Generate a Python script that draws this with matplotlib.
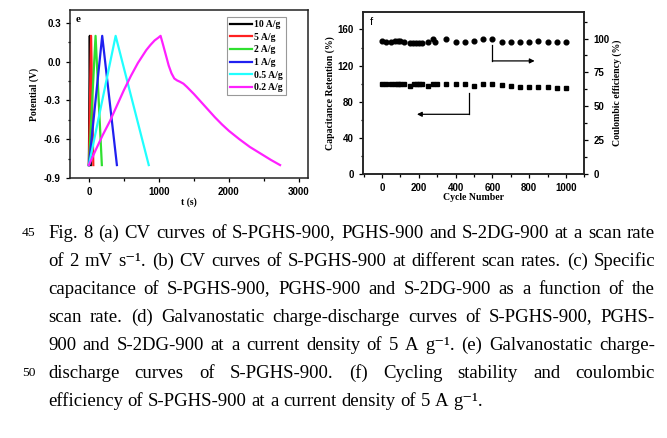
import numpy as np
import matplotlib
matplotlib.use('Agg')
from matplotlib import pyplot as plt
from matplotlib.ticker import MultipleLocator

# panel (e): galvanostatic charge-discharge curves
rates = ['10 A/g', '5 A/g', '2 A/g', '1 A/g', '0.5 A/g', '0.2 A/g']
colors = ['black', '#ff2020', '#30e030', '#2020f0', '#20ffff', '#ff20ff']
t_curves = [
    [0, 13, 27],
    [0, 31, 63],
    [0, 95, 185],
    [0, 190, 400],
    [0, 382, 855],
    [0, 100, 200, 300, 400, 500, 600, 700, 760, 820, 880, 940, 990, 1024,
     1060, 1100, 1140, 1180, 1220, 1260, 1300, 1350, 1400, 1500, 1600, 1700,
     1800, 1900, 2000, 2150, 2300, 2450, 2600, 2731],
]
v_curves = [
    [-0.8, 0.2, -0.8],
    [-0.8, 0.2, -0.8],
    [-0.8, 0.2, -0.8],
    [-0.8, 0.2, -0.8],
    [-0.8, 0.2, -0.8],
    [-0.8, -0.68, -0.565, -0.46, -0.34, -0.22, -0.11, -0.01, 0.04, 0.09, 0.13, 0.165, 0.185, 0.2,
     0.13, 0.05, -0.03, -0.09, -0.13, -0.145, -0.155, -0.17, -0.195, -0.25, -0.31, -0.37,
     -0.43, -0.485, -0.535, -0.6, -0.66, -0.71, -0.76, -0.8],
]

# panel (f): cycling stability
cyc_ret = [0, 20, 50, 70, 85, 100, 120, 150, 175, 190, 200, 220, 250, 275, 300,
           350, 400, 450, 500, 550, 600, 650, 700, 750, 800, 850, 900, 950, 1000]
retention = [100, 100, 100, 100, 100, 100, 100, 97.5, 100, 100, 100, 100, 98, 100, 100,
             100, 100, 100, 97.5, 100, 100, 99, 97.5, 96.5, 96.5, 96.5, 96.5, 95, 95]
cyc_eff = [0, 20, 50, 70, 85, 100, 120, 150, 170, 185, 200, 220, 250, 275, 290,
           350, 400, 450, 500, 550, 600, 650, 700, 750, 800, 850, 900, 950, 1000]
efficiency = [98, 97.5, 97.5, 98, 98, 98, 97.5, 97, 97, 97, 97, 96.8, 97.5, 100, 97.5,
              100, 97.5, 97.5, 98, 100, 100, 97.5, 97.5, 97.5, 97.5, 98.5, 97.5, 97.5, 97.5]

caption = [
    "Fig. 8 (a) CV curves of S-PGHS-900, PGHS-900 and S-2DG-900 at a scan rate",
    "of 2 mV s⁻¹. (b) CV curves of S-PGHS-900 at different scan rates. (c) Specific",
    "capacitance of S-PGHS-900, PGHS-900 and S-2DG-900 as a function of the",
    "scan rate. (d) Galvanostatic charge-discharge curves of S-PGHS-900, PGHS-",
    "900 and S-2DG-900 at a current density of 5 A g⁻¹. (e) Galvanostatic charge-",
    "discharge curves of S-PGHS-900. (f) Cycling stability and coulombic",
    "efficiency of S-PGHS-900 at a current density of 5 A g⁻¹.",
]
line_numbers = {0: '45', 5: '50'}

plt.rcParams['font.family'] = ['Liberation Sans', 'DejaVu Sans']
W, H = 667, 438
fig = plt.figure(figsize=(W / 100, H / 100), dpi=100)

serif = dict(family='Liberation Serif', weight='bold')
cap_family = ['Liberation Serif', 'DejaVu Serif']


def style_axes(ax):
    for s in ax.spines.values():
        s.set_linewidth(1.1)
        s.set_color('#222222')
    ax.tick_params(which='both', direction='out', labelsize=7, width=0.9)
    ax.tick_params(which='major', length=3)
    ax.tick_params(which='minor', length=1.8)
    for lab in ax.get_xticklabels() + ax.get_yticklabels():
        lab.set_fontweight('bold')


# ---- panel e
ax1 = fig.add_axes([70 / W, 1 - 178 / H, 238 / W, 168 / H])
for t, v, c, lab in zip(t_curves, v_curves, colors, rates):
    ax1.plot(t, v, color=c, lw=1.6, label=lab)
ax1.set_xlim(-270, 3130)
ax1.set_ylim(-0.9, 0.4)
ax1.set_xticks([0, 1000, 2000, 3000])
ax1.xaxis.set_minor_locator(MultipleLocator(500))
ax1.set_yticks([-0.9, -0.6, -0.3, 0.0, 0.3])
ax1.yaxis.set_minor_locator(MultipleLocator(0.15))
ax1.set_yticklabels(['-0.9', '-0.6', '-0.3', '0.0', '0.3'])
style_axes(ax1)
ax1.set_ylabel('Potential (V)', fontsize=7, labelpad=4, **serif)
ax1.set_xlabel('t (s)', fontsize=7, labelpad=0, **serif)
ax1.text(0.025, 0.97, 'e', transform=ax1.transAxes, va='top', fontsize=8, **serif)
leg = ax1.legend(loc='upper right', bbox_to_anchor=(0.907, 0.958),
                 prop=dict(family='Liberation Serif', weight='bold', size=7),
                 handlelength=2.2, handletextpad=0.25, labelspacing=0.38,
                 borderpad=0.3, borderaxespad=0, fancybox=False, framealpha=1)
leg.get_frame().set_edgecolor('#999999')
leg.get_frame().set_linewidth(0.8)

# ---- panel f
ax2 = fig.add_axes([362.7 / W, 1 - 174.3 / H, 221.6 / W, 162 / H])
ax2.plot(cyc_ret, retention, 's', color='black', ms=3.3)
ax2.set_xlim(-105, 1100)
ax2.set_ylim(0, 179)
ax2.set_xticks(range(0, 1001, 200))
ax2.xaxis.set_minor_locator(MultipleLocator(100))
ax2.set_yticks([0, 40, 80, 120, 160])
ax2.yaxis.set_minor_locator(MultipleLocator(20))
style_axes(ax2)
ax2.set_ylabel('Capacitance Retention (%)', fontsize=7, labelpad=2, **serif)
ax2.set_xlabel('Cycle Number', fontsize=7, labelpad=0, **serif)
ax2.text(0.03, 0.97, 'f', transform=ax2.transAxes, va='top', fontsize=8,
         family='Liberation Sans')

ax3 = ax2.twinx()
ax3.plot(cyc_eff, efficiency, 'o', color='black', ms=3.4)
ax3.set_ylim(0, 119.3)
ax3.set_yticks([0, 25, 50, 75, 100])
ax3.yaxis.set_minor_locator(MultipleLocator(12.5))
style_axes(ax3)
ax3.set_ylabel('Coulombic efficiency (%)', fontsize=7, labelpad=2, **serif)

# arrows pointing to the matching axis
ax3.plot([600, 600], [95, 83.5], color='black', lw=0.9)
ax3.annotate('', xy=(830, 83.5), xytext=(600, 83.5),
             arrowprops=dict(arrowstyle='-|>', color='black', lw=0.9,
                             mutation_scale=7, shrinkA=0, shrinkB=0))
ax2.plot([475, 475], [90, 66.3], color='black', lw=0.9)
ax2.annotate('', xy=(190, 66.3), xytext=(475, 66.3),
             arrowprops=dict(arrowstyle='-|>', color='black', lw=0.9,
                             mutation_scale=7, shrinkA=0, shrinkB=0))

# ---- caption, full-justified
left, right = 48, 655
renderer = fig.canvas.get_renderer()


def text_width(s, size):
    t = fig.text(0, 0, s, family=cap_family, size=size)
    w = t.get_window_extent(renderer).width
    t.remove()
    return w


probe_size = 10
widest = max(text_width(line, probe_size) for line in caption)
cap_size = probe_size * (right - left) / widest * 0.98
space_w = text_width('a a', cap_size) - text_width('aa', cap_size)

for i, line in enumerate(caption):
    yc = 1 - (233 + 28 * i) / H
    words = line.split(' ')
    texts = [fig.text(0, yc, w, family=cap_family, size=cap_size, va='center')
             for w in words]
    widths = [t.get_window_extent(renderer).width for t in texts]
    if i < len(caption) - 1:
        gap = (right - left - sum(widths)) / (len(words) - 1)
    else:
        gap = space_w
    x = left
    for t, w in zip(texts, widths):
        t.set_x(x / W)
        x += w + gap
    if i in line_numbers:
        fig.text(22 / W, yc, line_numbers[i], family=cap_family,
                 size=cap_size * 0.72, va='center')

fig.savefig('out.png', dpi=100)
